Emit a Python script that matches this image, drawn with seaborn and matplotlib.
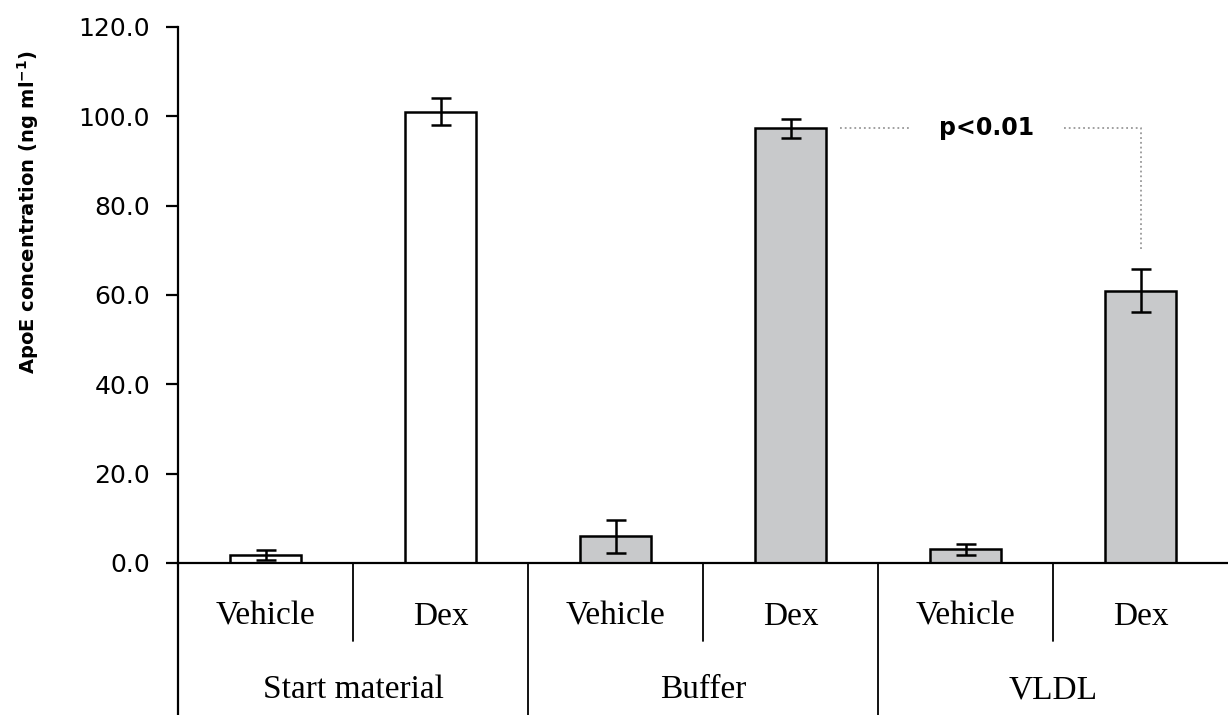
import matplotlib
matplotlib.use("Agg")
import matplotlib.pyplot as plt
import seaborn as sns
import pandas as pd
import numpy as np

groups = ["Start material", "Buffer", "VLDL"]
treatments = ["Vehicle", "Dex"]
values = [1.8, 101.0, 6.0, 97.3, 3.1, 61.0]
errors = [1.2, 3.0, 3.7, 2.2, 1.2, 4.8]
colors = ["#ffffff", "#ffffff", "#c8c9cb", "#c8c9cb", "#c8c9cb", "#c8c9cb"]
yticks = [0, 20, 40, 60, 80, 100, 120]
p_text = "p<0.01"

sns.set_style("white")
plt.rcParams["font.family"] = ["DejaVu Sans"]
plt.rcParams["text.color"] = "black"
plt.rcParams["axes.labelcolor"] = "black"
plt.rcParams["xtick.color"] = "black"
plt.rcParams["ytick.color"] = "black"

labels = [f"{g}|{t}" for g in groups for t in treatments]
df = pd.DataFrame({"bar": labels, "value": values})

fig = plt.figure(figsize=(12.28, 7.15), dpi=100)
ax = fig.add_axes([178 / 1228, (715 - 563) / 715, 1 - 178 / 1228, (563 - 27) / 715])

sns.barplot(data=df, x="bar", y="value", hue="bar", palette=colors, legend=False,
            order=labels, width=0.41, edgecolor="black", linewidth=1.8, ax=ax,
            errorbar=None)
xs = np.arange(len(values))
ax.errorbar(xs, values, yerr=errors, fmt="none", ecolor="black", elinewidth=1.8,
            capsize=7, capthick=1.8, zorder=5)

ax.set_xlim(-0.5, 5.5)
ax.set_ylim(0, 120)
ax.set_yticks(yticks)
ax.set_yticklabels([f"{v:.1f}" for v in yticks], fontsize=18, color="black")
ax.tick_params(axis="y", direction="out", length=9, width=1.6, left=True, pad=11,
               color="black")
ax.set_xticks([])
ax.set_xlabel("")
ax.set_ylabel("")
for s in ["top", "right"]:
    ax.spines[s].set_visible(False)
ax.spines["left"].set_linewidth(1.6)
ax.spines["bottom"].set_linewidth(1.6)
ax.spines["left"].set_color("black")
ax.spines["bottom"].set_color("black")

# category table below the axis
trans = ax.get_xaxis_transform()
bottom_frac = -(715 - 563) / 536
ax.plot([-0.5, -0.5], [0, bottom_frac], transform=trans, color="black", lw=1.6, clip_on=False)
for i in range(len(groups)):
    mid = 2 * i + 0.5
    ax.plot([mid, mid], [0, -0.145], transform=trans, color="black", lw=1.3, clip_on=False)
    if i < len(groups) - 1:
        edge = 2 * i + 1.5
        ax.plot([edge, edge], [0, bottom_frac], transform=trans, color="black", lw=1.3, clip_on=False)
    ax.text(2 * i + 0.5, -0.237, groups[i], transform=trans, ha="center", va="center",
            fontsize=24, family="Liberation Serif", color="black")
for j, lab in enumerate(labels):
    ax.text(j, -0.10, lab.split("|")[1], transform=trans, ha="center", va="center",
            fontsize=24, family="Liberation Serif", color="black")

# significance annotation
yline = values[3]
ax.plot([3.28, 3.69], [yline, yline], color="#999999", lw=1.3, ls=":")
ax.plot([4.56, 5.0, 5.0], [yline, yline, 70], color="#999999", lw=1.3, ls=":")
ax.text(4.12, yline, p_text, ha="center", va="center", fontsize=17, fontweight="bold",
        color="black")

fig.text(28 / 1228, 1 - 212 / 715, r"ApoE concentration (ng ml$^{\mathregular{-1}}$)",
         rotation=90, ha="center", va="center", fontsize=14, fontweight="bold",
         color="black")

fig.savefig("out.png", dpi=100)
